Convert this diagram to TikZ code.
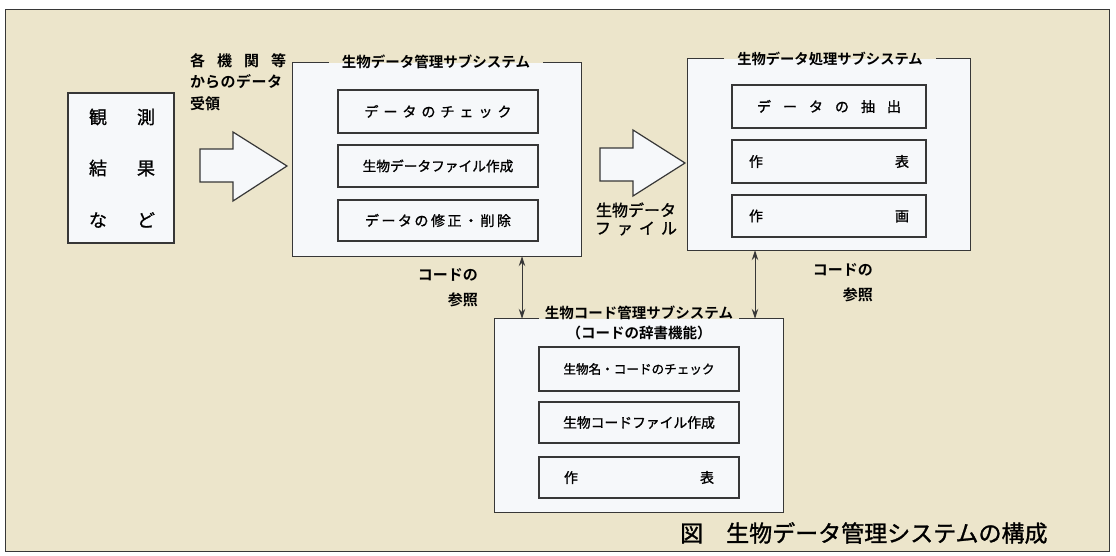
\documentclass[tikz,border=0pt]{standalone}
\usepackage{fontspec}
\setmainfont{Noto Sans CJK JP}[BoldFont={* Bold}]
\newfontfamily\jpm{Noto Sans CJK JP}[FakeBold=1.2]
\usetikzlibrary{arrows.meta}
\definecolor{bg}{RGB}{236,229,203}
\definecolor{boxfill}{RGB}{246,248,250}
\definecolor{ln}{RGB}{55,55,55}
\newcommand\gp[1]{\hspace{#1pt}}
\newcommand\fs[1]{\fontsize{#1}{#1}\selectfont}
\tikzset{
  outline/.style={draw=ln, line width=1.2pt},
  subbox/.style={fill=boxfill, inner sep=0pt},
  item/.style={draw=ln, fill=boxfill, line width=1.2pt, inner sep=0pt, font=\jpm\fs{14}},
  ttl/.style={font=\bfseries\fs{14.5}, inner ysep=1pt, inner xsep=13pt, text=black},
  lbl/.style={font=\bfseries\fs{15}, inner sep=0pt, text=black},
  bigarrow/.style={draw=ln, fill=boxfill, line width=1.2pt, line join=miter},
  ref/.style={draw=ln, line width=1pt, {Stealth[length=10pt,width=6.5pt]}-{Stealth[length=10pt,width=6.5pt]}},
}
\begin{document}
\begin{tikzpicture}[x=1pt,y=-1pt]
\useasboundingbox (0,0) rectangle (1116,556);
\fill[white] (0,0) rectangle (1116,556);
\draw[draw=ln, fill=bg, line width=1pt] (5,10) rectangle (1109,551);

% observation box
\node[item, minimum width=106pt, minimum height=150pt] (obs) at (121,168) {};
\node[font=\jpm\fs{18}, inner sep=0pt] (o1) at (122,117) {観\gp{30}測};
\node[font=\jpm\fs{18}, inner sep=0pt] (o2) at (122,168) {結\gp{30}果};
\node[font=\jpm\fs{18}, inner sep=0pt] (o3) at (122,220) {な\gp{30}ど};

% label receiving
\node[lbl, anchor=north west, align=left, font=\bfseries\fontsize{15}{21.5}\selectfont] (recv) at (190,53)
  {各\gp{12}機\gp{12}関\gp{12}等\\から\gp{0.5}の\gp{0.5}デ\gp{0.5}ー\gp{0.5}タ\\受領};

% arrow 1
\draw[bigarrow] (200,149) -- (233,149) -- (233,132) -- (287,166) -- (233,201) -- (233,182) -- (200,182) -- cycle;

% management subsystem
\node[subbox, minimum width=288pt, minimum height=193pt] (mg) at (437,159.5) {};
\node[ttl] (mgt) at (436,62) {生物データ管理サブシステム};
\draw[outline] (mgt.west |- mg.north) -- (mg.north west) -- (mg.south west) -- (mg.south east) -- (mg.north east) -- (mgt.east |- mg.north);
\node[item, minimum width=200pt, minimum height=43pt] (m1) at (438,111.5) {デ\gp{5}ー\gp{5}タ\gp{5}の\gp{5}チ\gp{5}ェ\gp{5}ッ\gp{5}ク};
\node[item, minimum width=200pt, minimum height=42pt, font=\jpm\fs{13.7}] (m2) at (438,166) {生物データファイル作成};
\node[item, minimum width=200pt, minimum height=41pt] (m3) at (438,220.5) {デ\gp{2.5}ー\gp{2.5}タ\gp{2.5}の\gp{2.5}修\gp{2.5}正\gp{2.5}・\gp{2.5}削\gp{2.5}除};

% arrow 2
\draw[bigarrow] (600,148) -- (633,148) -- (633,130) -- (685,163) -- (633,196) -- (633,181) -- (600,181) -- cycle;
\node[lbl, align=center, font=\jpm\fontsize{16}{18}\selectfont] (bf) at (636,219) {生物データ\\フ\gp{6}ァ\gp{6}イ\gp{6}ル};

% processing subsystem
\node[subbox, minimum width=282pt, minimum height=191pt] (pr) at (829,154.5) {};
\node[ttl, font=\bfseries\fs{14.3}] (prt) at (830,59) {生物データ処理サブシステム};
\draw[outline] (prt.west |- pr.north) -- (pr.north west) -- (pr.south west) -- (pr.south east) -- (pr.north east) -- (prt.east |- pr.north);
\node[item, minimum width=194pt, minimum height=43pt] (p1) at (829,106.5) {デ\gp{12}ー\gp{12}タ\gp{12}の\gp{12}抽\gp{12}出};
\node[item, minimum width=194pt, minimum height=43pt, text width=160pt, align=left] (p2) at (829,161.5) {作\hfill 表};
\node[item, minimum width=194pt, minimum height=42pt, text width=160pt, align=left] (p3) at (829,216) {作\hfill 画};

% code subsystem
\node[subbox, minimum width=288pt, minimum height=193pt] (cd) at (639,415.5) {};
\node[ttl, align=center, font=\bfseries\fontsize{14.5}{20}\selectfont, inner xsep=6pt] (cdt) at (639,323) {生物コード管理サブシステム\\（コードの辞書機能）};
\draw[outline] (cdt.west |- cd.north) -- (cd.north west) -- (cd.south west) -- (cd.south east) -- (cd.north east) -- (cdt.east |- cd.north);
\node[item, minimum width=200pt, minimum height=44pt, font=\jpm\fs{12.6}] (c1) at (639,369) {生物名・コードのチェック};
\node[item, minimum width=200pt, minimum height=41pt, font=\jpm\fs{13.8}] (c2) at (639,422.5) {生物コードファイル作成};
\node[item, minimum width=200pt, minimum height=41pt, text width=150pt, align=left] (c3) at (639,477.5) {作\hfill 表};

% references
\coordinate (la) at (522,0);
\coordinate (ra) at (755,0);
\draw[ref] (la |- mg.south) -- (la |- cd.north);
\draw[ref] (ra |- pr.south) -- (ra |- cd.north);
\node[lbl, align=right, anchor=east, font=\bfseries\fontsize{15}{25}\selectfont] (lr) at (478,287.5) {コードの\\参照};
\node[lbl, align=right, anchor=east, font=\bfseries\fontsize{15}{25}\selectfont] (rr) at (873,282.5) {コードの\\参照};

% caption
\node[anchor=west, inner sep=0pt, font=\jpm\fs{23}] (cap) at (680,533) {図　生物データ管理システムの構成};
\end{tikzpicture}
\end{document}
